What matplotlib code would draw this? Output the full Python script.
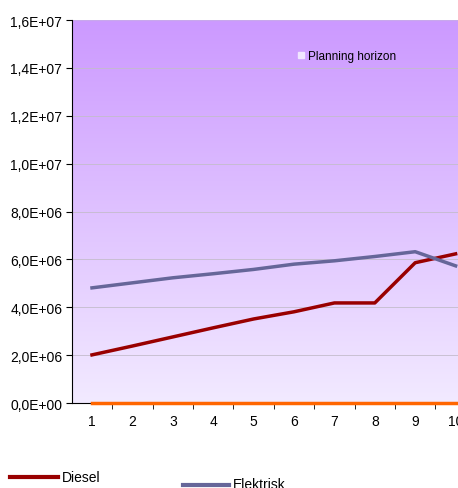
import numpy as np
import matplotlib.pyplot as plt
from matplotlib.lines import Line2D

plt.rcParams['font.family'] = ['Liberation Sans', 'DejaVu Sans']

# data
years = [1, 2, 3, 4, 5, 6, 7, 8, 9, 10]
diesel = [2.01e6, 2.38e6, 2.76e6, 3.14e6, 3.51e6, 3.81e6, 4.18e6, 4.18e6, 5.86e6, 6.23e6]
elektrisk = [4.81e6, 5.02e6, 5.23e6, 5.40e6, 5.58e6, 5.80e6, 5.94e6, 6.12e6, 6.32e6, 5.73e6]
horizon = [0, 0, 0, 0, 0, 0, 0, 0, 0, 0]
yticks = [0, 2e6, 4e6, 6e6, 8e6, 1e7, 1.2e7, 1.4e7, 1.6e7]
ytick_labels = ['0,0E+00', '2,0E+06', '4,0E+06', '6,0E+06', '8,0E+06',
                '1,0E+07', '1,2E+07', '1,4E+07', '1,6E+07']

W, H = 458, 489
fig = plt.figure(figsize=(W / 100, H / 100), dpi=100)
ax = fig.add_axes([72 / W, 1 - 404 / H, (W - 72) / W, (404 - 21) / H])

xmin, xmax = 0.505, 0.505 + (W - 72) / 40.4

# gradient background
grad = np.linspace(0, 1, 256).reshape(-1, 1)
top = np.array([204, 153, 255]) / 255
bot = np.array([242, 234, 255]) / 255
img = bot + (top - bot) * grad[:, :, None] * np.ones((1, 1, 3))
ax.imshow(img, extent=[xmin, xmax, 0, 1.6e7], origin='lower', aspect='auto', zorder=0)

for v in yticks[1:-1]:
    ax.axhline(v, color='#c4bccc', lw=0.6, zorder=1)
ax.axhline(1.6e7, color='#c8a8ec', lw=1.0, zorder=1)

ax.plot(years, diesel, color='#990000', lw=2.5, zorder=3)
ax.plot(years, elektrisk, color='#666699', lw=2.5, zorder=3)
ax.plot(years + [11], horizon + [0], color='#FF6600', lw=2.5, zorder=4, clip_on=False)

ax.set_yticks(yticks)
ax.set_yticklabels(ytick_labels, fontsize=10)
ax.set_xticks(years)
ax.set_xticklabels([str(y) for y in years], fontsize=10)
ax.set_xticks([i + 0.5 for i in range(0, 11)], minor=True)
ax.tick_params(axis='x', which='major', length=0, pad=8)
ax.tick_params(axis='x', which='minor', length=4, direction='out')
ax.tick_params(axis='y', length=4, direction='out', pad=3)

# limits last, set_xticks would otherwise widen them
ax.set_xlim(xmin, xmax)
ax.set_ylim(0, 1.6e7)

for s in ['top', 'right']:
    ax.spines[s].set_visible(False)
ax.spines['left'].set_color('black')
ax.spines['bottom'].set_color('black')

# planning horizon legend inside the plot
ax.legend([Line2D([], [], marker='s', color='none', markerfacecolor='#f0e6ff',
                  markeredgecolor='#f0e6ff', markersize=4)],
          ['Planning horizon'], loc='upper left', bbox_to_anchor=(293 / W, 1 - 46 / H),
          bbox_transform=fig.transFigure, frameon=False, fontsize=8.5,
          handlelength=0.6, handletextpad=0.3, borderaxespad=0)

# bottom legend
fig.add_artist(Line2D([10 / W, 58 / W], [1 - 478 / H, 1 - 478 / H], color='#990000', lw=3))
fig.text(62 / W, 1 - 478 / H, 'Diesel', fontsize=10, va='center')
fig.add_artist(Line2D([183 / W, 229 / W], [1 - 486 / H, 1 - 486 / H], color='#666699', lw=3))
fig.text(233 / W, 1 - 485 / H, 'Elektrisk', fontsize=10, va='center')

fig.savefig('out.png', dpi=100)
